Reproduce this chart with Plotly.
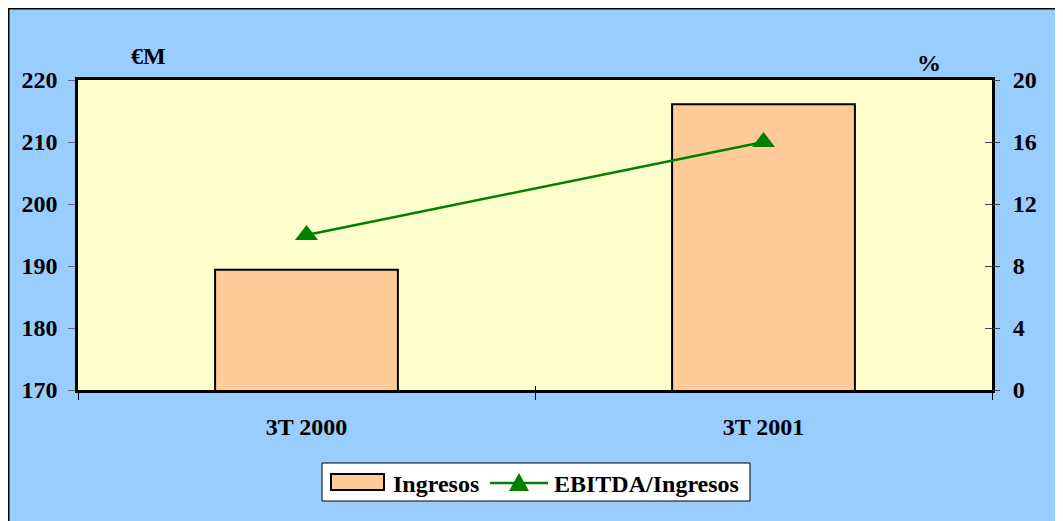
import plotly.graph_objects as go

categories = ["3T 2000", "3T 2001"]
ingresos = [189.4, 216.1]
ebitda_pct = [10.0, 16.0]
left_ticks = [170, 180, 190, 200, 210, 220]
right_ticks = [0, 4, 8, 12, 16, 20]

# page body margin offset (screen px -> figure px)
OX, OY = 8, 8
W, H = 1063 - OX, 521 - OY
FONT = "Liberation Serif"

def px_x(p):
    return (p - OX) / W

def px_y(p):
    return 1 - (p - OY) / H

fig = go.Figure()
fig.add_trace(go.Bar(
    x=categories, y=ingresos, name="Ingresos",
    marker=dict(color="#FFCC99", line=dict(color="black", width=2)),
    yaxis="y", showlegend=False,
))
fig.add_trace(go.Scatter(
    x=categories, y=ebitda_pct, name="EBITDA/Ingresos",
    mode="lines+markers",
    line=dict(color="#008000", width=2.5),
    marker=dict(symbol="triangle-up", size=20, color="#008000"),
    yaxis="y2", showlegend=False,
))

bold = dict(family=FONT, size=24, color="black", weight="bold")
xdom = [px_x(78), px_x(992)]
ydom = [px_y(390), px_y(80)]

fig.update_layout(
    width=W, height=H,
    autosize=False,
    margin=dict(l=0, r=0, t=0, b=0, autoexpand=False),
    paper_bgcolor="#99CCFF",
    plot_bgcolor="#FFFFCC",
    bargap=0.6,
    showlegend=False,
    xaxis=dict(
        domain=xdom, type="category", automargin=False,
        tickfont=bold, ticklabelstandoff=13,
        ticks="outside", ticklen=7, tickwidth=1, tickcolor="black",
        tickson="boundaries",
        showline=True, linecolor="black", linewidth=2.5, mirror=True,
        showgrid=False,
    ),
    xaxis2=dict(
        domain=xdom, type="category", overlaying="x", anchor="y", side="bottom",
        matches="x", automargin=False,
        showticklabels=False, ticks="inside", ticklen=4, tickwidth=1, tickcolor="black",
        tickson="boundaries", showline=False, showgrid=False,
    ),
    yaxis=dict(
        domain=ydom, automargin=False,
        range=[170, 220], tickvals=left_ticks,
        tickfont=bold, ticklabelstandoff=6,
        ticks="outside", ticklen=7, tickwidth=1, tickcolor="#666666",
        showline=True, linecolor="black", linewidth=2.5, mirror=True,
        showgrid=False, zeroline=False,
    ),
    yaxis2=dict(
        overlaying="y", side="right", anchor="x", automargin=False,
        range=[0, 20], tickvals=right_ticks,
        tickfont=bold, ticklabelstandoff=8,
        ticks="outside", ticklen=7, tickwidth=1, tickcolor="#444444",
        showline=False, showgrid=False, zeroline=False,
    ),
    yaxis3=dict(
        overlaying="y", side="right", anchor="x", automargin=False,
        range=[0, 20], tickvals=right_ticks, showticklabels=False,
        ticks="inside", ticklen=7, tickwidth=1, tickcolor="#444444",
        showline=False, showgrid=False, zeroline=False,
    ),
)

# invisible trace to activate the helper axes
fig.add_trace(go.Scatter(x=categories, y=[None, None], xaxis="x2", yaxis="y3",
                         showlegend=False, hoverinfo="skip"))

shapes = []
# outer frame border (top & left black lines)
shapes.append(dict(type="line", xref="paper", yref="paper",
                   x0=0, x1=1, y0=1, y1=1, line=dict(color="black", width=3)))
shapes.append(dict(type="line", xref="paper", yref="paper",
                   x0=0, x1=0, y0=0, y1=1, line=dict(color="black", width=3)))
# manual legend
shapes.append(dict(type="rect", xref="paper", yref="paper",
                   x0=px_x(322), x1=px_x(750), y0=px_y(501), y1=px_y(463),
                   fillcolor="white", line=dict(color="black", width=1)))
shapes.append(dict(type="rect", xref="paper", yref="paper",
                   x0=px_x(331), x1=px_x(384), y0=px_y(490), y1=px_y(474),
                   fillcolor="#FFCC99", line=dict(color="black", width=2)))
shapes.append(dict(type="line", xref="paper", yref="paper",
                   x0=px_x(490), x1=px_x(548), y0=px_y(483), y1=px_y(483),
                   line=dict(color="#008000", width=2.5)))
tx, ty = 519, 483
path = "M {} {} L {} {} L {} {} Z".format(
    px_x(tx - 10), px_y(ty + 8), px_x(tx + 10), px_y(ty + 8), px_x(tx), px_y(ty - 10))
shapes.append(dict(type="path", xref="paper", yref="paper", path=path,
                   fillcolor="#008000", line=dict(color="#008000", width=0)))

annotations = [
    dict(text="€M", xref="paper", yref="paper", x=px_x(148), y=px_y(56),
         xanchor="center", yanchor="middle", showarrow=False, font=bold),
    dict(text="%", xref="paper", yref="paper", x=px_x(929), y=px_y(63),
         xanchor="center", yanchor="middle", showarrow=False, font=bold),
    dict(text="Ingresos", xref="paper", yref="paper", x=px_x(391), y=px_y(484),
         xanchor="left", yanchor="middle", showarrow=False, font=bold),
    dict(text="EBITDA/Ingresos", xref="paper", yref="paper", x=px_x(552), y=px_y(484),
         xanchor="left", yanchor="middle", showarrow=False, font=bold),
]

fig.update_layout(shapes=shapes, annotations=annotations)

fig.write_html("out.html")
